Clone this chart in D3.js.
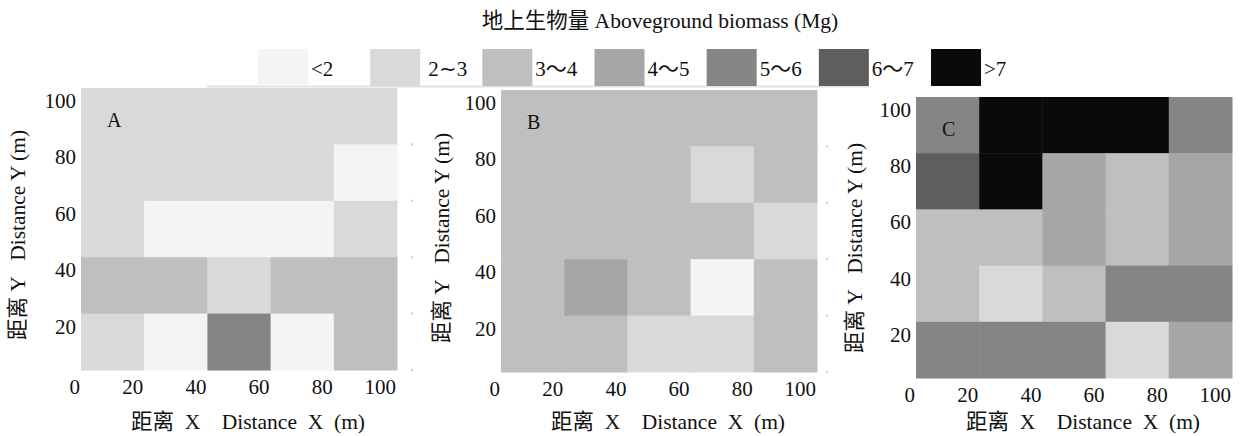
<!DOCTYPE html>
<html><head><meta charset="utf-8">
<script src="https://cdn.jsdelivr.net/npm/d3@7"></script>
<style>
html,body{margin:0;padding:0;background:#fff;}
text{font-family:"Liberation Serif","Times New Roman","Noto Sans CJK SC",serif;fill:#111;}
</style></head>
<body><svg id="chart" width="1244" height="436"></svg>
<script>
// ---- data ----
const title = "地上生物量 Aboveground biomass (Mg)";
const classLabels = ["<2", "2∼3", "3～4", "4～5", "5～6", "6～7", ">7"];
const classColors = ["#f3f4f6", "#d9d9d9", "#c0bfc0", "#a6a6a6", "#858585", "#5e5e5e", "#0a0a0d"];
const gridCols = [0, 1, 2, 3, 4];          // 20 m columns (0-20 ... 80-100)
const gridRows = [4, 3, 2, 1, 0];          // 20 m rows, listed top (80-100) to bottom (0-20)
const tickValues = [0, 20, 40, 60, 80, 100];
// biomass class index per 20x20 m cell, rows from top (80-100 m) to bottom (0-20 m)
const plotA = [
  [1, 1, 1, 1, 1],
  [1, 1, 1, 1, 0],
  [1, 0, 0, 0, 1],
  [2, 2, 1, 2, 2],
  [1, 0, 4, 0, 2]
];
const plotB = [
  [2, 2, 2, 2, 2],
  [2, 2, 2, 1, 2],
  [2, 2, 2, 2, 1],
  [2, 3, 2, 0, 2],
  [2, 2, 1, 1, 2]
];
const plotC = [
  [4, 6, 6, 6, 4],
  [5, 6, 3, 2, 3],
  [2, 2, 3, 2, 3],
  [2, 1, 2, 4, 4],
  [4, 4, 4, 1, 3]
];
const panelLetters = ["A", "B", "C"];
const xTitle = "距离  X    Distance  X  (m)";
const yTitle = "距离 Y   Distance Y (m)";

// ---- layout ----
const svg = d3.select("#chart");
const panels = [
  {data: plotA, letter: panelLetters[0], x0: 81,  x1: 397,  y0: 88, y1: 370, ytx: 18,  yty: 235, dotsX: 411},
  {data: plotB, letter: panelLetters[1], x0: 501, x1: 817,  y0: 90, y1: 372, ytx: 442, yty: 238, dotsX: 826},
  {data: plotC, letter: panelLetters[2], x0: 916, x1: 1232, y0: 97, y1: 378, ytx: 855, yty: 248, dotsX: null}
];

const color = d3.scaleOrdinal().domain(d3.range(classLabels.length)).range(classColors);

// title
svg.append("text").attr("x", 660).attr("y", 28).attr("text-anchor", "middle")
  .style("font-size", "21.5px").text(title);

// legend
const legX = d3.scaleLinear().domain([0, classLabels.length - 1]).range([258, 931]);
svg.append("line").attr("x1", 207).attr("x2", 869).attr("y1", 86.5).attr("y2", 86.5)
  .attr("stroke", "#e2e2e2").attr("stroke-width", 2);
const leg = svg.append("g").selectAll("g").data(classLabels).join("g")
  .attr("transform", (d, i) => `translate(${legX(i)},49)`);
leg.append("rect").attr("width", 50).attr("height", 37).attr("fill", (d, i) => color(i));
leg.append("text").attr("x", (d, i) => i === 1 ? 58 : 53).attr("y", 27)
  .style("font-size", "21px").text(d => d);

panels.forEach(p => {
  const g = svg.append("g");
  const xb = d3.scaleBand().domain(gridCols).range([p.x0, p.x1]);
  const yb = d3.scaleBand().domain(gridRows).range([p.y0, p.y1]);
  const xl = d3.scaleLinear().domain([0, 100]).range([p.x0, p.x1]);
  const yl = d3.scaleLinear().domain([0, 100]).range([p.y1, p.y0]);

  const cells = [];
  p.data.forEach((row, ri) => row.forEach((v, ci) => cells.push({r: gridRows[ri], c: gridCols[ci], v})));
  g.selectAll("rect").data(cells).join("rect")
    .attr("x", d => xb(d.c)).attr("y", d => yb(d.r))
    .attr("width", xb.bandwidth() + 0.5).attr("height", yb.bandwidth() + 0.5)
    .attr("fill", d => color(d.v));

  // faint gridline remnants
  if (p.dotsX) {
    g.selectAll("rect.dot").data(tickValues.slice(0, 5)).join("rect").attr("class", "dot")
      .attr("x", p.dotsX).attr("y", d => yl(d) - 1).attr("width", 2).attr("height", 2)
      .attr("fill", "#d0d0d0");
  }

  // x tick labels
  g.append("g").selectAll("text").data(tickValues).join("text")
    .attr("x", d => xl(d) - 1).attr("y", p.y1 + 24).attr("text-anchor", "end")
    .style("font-size", "21px").text(d => d);
  // y tick labels (hang below gridline)
  g.append("g").selectAll("text").data(tickValues.slice(1)).join("text")
    .attr("x", p.x0 - 5).attr("y", d => yl(d) + 20).attr("text-anchor", "end")
    .style("font-size", "21px").text(d => d);

  // panel letter
  g.append("text").attr("x", p.x0 + 26).attr("y", p.y0 + 39).style("font-size", "20px").text(p.letter);

  // axis titles
  g.append("text").attr("x", (p.x0 + p.x1) / 2 + 9).attr("y", 429).attr("text-anchor", "middle")
    .style("font-size", "21.5px").style("white-space", "pre").text(xTitle);
  g.append("text").attr("transform", `translate(${p.ytx + 7},${p.yty}) rotate(-90)`)
    .attr("text-anchor", "middle").style("font-size", "21.5px").style("white-space", "pre").text(yTitle);
});
</script></body></html>
